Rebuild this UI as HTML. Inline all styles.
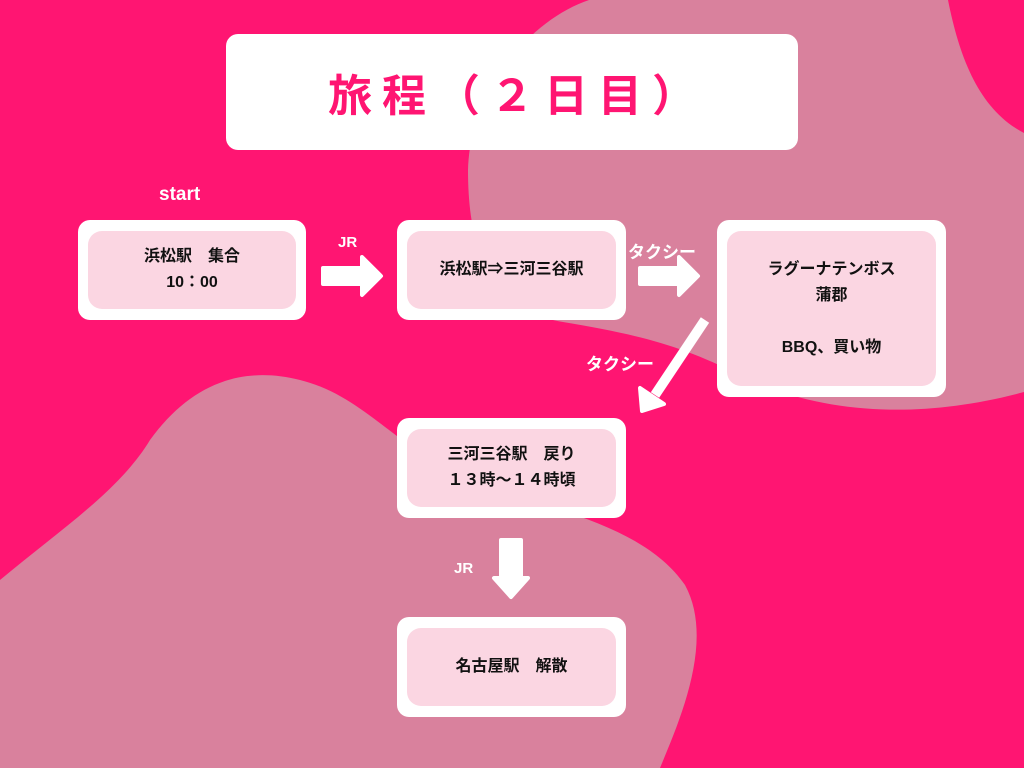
<!DOCTYPE html>
<html><head><meta charset="utf-8"><style>
body{margin:0;width:1024px;height:768px;overflow:hidden;background:#ff1572;position:relative;font-family:"Liberation Sans","Noto Sans CJK JP",sans-serif;font-weight:bold}
svg{position:absolute;left:0;top:0}
.box{position:absolute;background:#fff;border-radius:12px}
.in{position:absolute;left:10px;top:11px;right:10px;bottom:11px;background:#fbd6e2;border-radius:14px;display:flex;align-items:center;justify-content:center;text-align:center;font-size:16px;line-height:26px;color:#111}
.lbl{position:absolute;color:#fff;font-size:17px}
</style></head><body>
<svg width="1024" height="768">
<path d="M589,0 C530,20 470,90 468,170 C468,250 490,310 563,322 C640,335 680,345 740,375 C820,415 920,420 1024,392 L1024,133 C980,110 960,60 948,0 Z" fill="#d9819d"/>
<path d="M0,580 C60,530 120,490 150,440 C190,385 240,365 300,380 C360,395 390,440 450,470 C540,510 640,520 685,585 C715,640 680,720 660,768 L0,768 Z" fill="#d9819d"/>
<g fill="#fff" stroke="#fff" stroke-width="4" stroke-linejoin="round">
<polygon points="323,268 362,268 362,257 381,276 362,295 362,284 323,284"/>
<polygon points="640,268 679,268 679,257 698,276 679,295 679,284 640,284"/>
<polygon points="501,540 521,540 521,578 528,578 511,597 494,578 501,578"/>
</g>
<line x1="705" y1="320" x2="655" y2="395" stroke="#fff" stroke-width="10"/>
<polygon points="640,388 642,411 664,404" fill="#fff" stroke="#fff" stroke-width="4" stroke-linejoin="round"/>
</svg>
<div class="box" style="left:226px;top:34px;width:572px;height:116px;display:flex;align-items:center;justify-content:center;color:#ff1572;font-size:44px;letter-spacing:10px;padding-left:10px;box-sizing:border-box">旅程（２日目）</div>
<div class="lbl" style="left:159px;top:184px;font-size:19px">start</div>
<div class="lbl" style="left:338px;top:234px;font-size:15px">JR</div>
<div class="lbl" style="left:628px;top:238px;font-size:17px">タクシー</div>
<div class="lbl" style="left:586px;top:350px;font-size:17px">タクシー</div>
<div class="lbl" style="left:454px;top:560px;font-size:15px">JR</div>
<div class="box" style="left:78px;top:220px;width:228px;height:100px"><div class="in">浜松駅　集合<br>10：00</div></div>
<div class="box" style="left:397px;top:220px;width:229px;height:100px"><div class="in">浜松駅⇒三河三谷駅</div></div>
<div class="box" style="left:717px;top:220px;width:229px;height:177px"><div class="in">ラグーナテンボス<br>蒲郡<br><br>BBQ、買い物</div></div>
<div class="box" style="left:397px;top:418px;width:229px;height:100px"><div class="in">三河三谷駅　戻り<br>１３時〜１４時頃</div></div>
<div class="box" style="left:397px;top:617px;width:229px;height:100px"><div class="in">名古屋駅　解散</div></div>
</body></html>
